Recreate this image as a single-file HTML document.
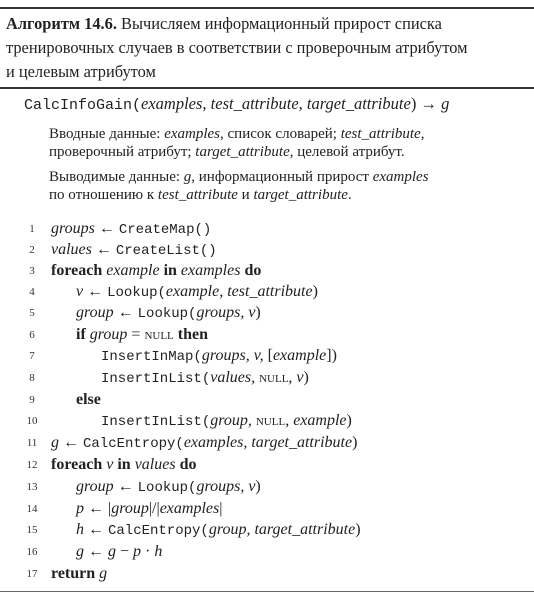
<!DOCTYPE html>
<html><head><meta charset="utf-8"><style>
body{margin:0;width:534px;height:598px;background:#fff;position:relative;overflow:hidden;font-family:"Liberation Serif","DejaVu Serif",serif;color:#222;}
.r{position:absolute;left:0;width:534px;background:#333;}
.l{position:absolute;white-space:nowrap;font-size:16px;line-height:20px;}
.n{position:absolute;left:24px;width:16px;text-align:center;font-size:11px;line-height:20px;color:#333;}
.m{font-family:"Liberation Mono",monospace;font-size:14px;}
i{font-style:italic}
.sc{font-variant:small-caps;font-size:15px}
.s{font-size:15px;}
.t{font-size:16.4px;}
</style></head><body>
<div class="r" style="top:7px;height:2px"></div>
<div class="l t" style="left:6px;top:14px"><b>Алгоритм 14.6.</b> Вычисляем информационный прирост списка</div>
<div class="l t" style="left:6px;top:38px">тренировочных случаев в соответствии с проверочным атрибутом</div>
<div class="l t" style="left:6px;top:62px">и целевым атрибутом</div>
<div class="r" style="top:87px;height:2px"></div>
<div class="l" style="left:24px;top:94px;font-size:16.5px"><span class="m" style="font-size:15px">CalcInfoGain(</span><i>examples, test_attribute, target_attribute</i>) → <i>g</i></div>
<div class="l s" style="left:49px;top:124px">Вводные данные: <i>examples</i>, список словарей; <i>test_attribute</i>,</div>
<div class="l s" style="left:49px;top:142px">проверочный атрибут; <i>target_attribute</i>, целевой атрибут.</div>
<div class="l s" style="left:49px;top:167px">Выводимые данные: <i>g</i>, информационный прирост <i>examples</i></div>
<div class="l s" style="left:49px;top:185px">по отношению к <i>test_attribute</i> и <i>target_attribute</i>.</div>

<div class="n" style="top:219px">1</div><div class="l" style="left:51px;top:219px"><i>groups</i> ← <span class="m">CreateMap()</span></div>
<div class="n" style="top:240px">2</div><div class="l" style="left:51px;top:240px"><i>values</i> ← <span class="m">CreateList()</span></div>
<div class="n" style="top:261px">3</div><div class="l" style="left:51px;top:261px"><b>foreach</b> <i>example</i> <b>in</b> <i>examples</i> <b>do</b></div>
<div class="n" style="top:282px">4</div><div class="l" style="left:76px;top:282px"><i>v</i> ← <span class="m">Lookup(</span><i>example, test_attribute</i>)</div>
<div class="n" style="top:303px">5</div><div class="l" style="left:76px;top:303px"><i>group</i> ← <span class="m">Lookup(</span><i>groups, v</i>)</div>
<div class="n" style="top:325px">6</div><div class="l" style="left:76px;top:325px"><b>if</b> <i>group</i> = <span class="sc">null</span> <b>then</b></div>
<div class="n" style="top:346px">7</div><div class="l" style="left:101px;top:346px"><span class="m">InsertInMap(</span><i>groups, v,</i> [<i>example</i>])</div>
<div class="n" style="top:368px">8</div><div class="l" style="left:101px;top:368px"><span class="m">InsertInList(</span><i>values,</i> <span class="sc">null</span>, <i>v</i>)</div>
<div class="n" style="top:390px">9</div><div class="l" style="left:76px;top:390px"><b>else</b></div>
<div class="n" style="top:411px">10</div><div class="l" style="left:101px;top:411px"><span class="m">InsertInList(</span><i>group,</i> <span class="sc">null</span>, <i>example</i>)</div>
<div class="n" style="top:433px">11</div><div class="l" style="left:51px;top:433px"><i>g</i> ← <span class="m">CalcEntropy(</span><i>examples, target_attribute</i>)</div>
<div class="n" style="top:455px">12</div><div class="l" style="left:51px;top:455px"><b>foreach</b> <i>v</i> <b>in</b> <i>values</i> <b>do</b></div>
<div class="n" style="top:477px">13</div><div class="l" style="left:76px;top:477px"><i>group</i> ← <span class="m">Lookup(</span><i>groups, v</i>)</div>
<div class="n" style="top:499px">14</div><div class="l" style="left:76px;top:499px"><i>p</i> ← |<i>group</i>|/|<i>examples</i>|</div>
<div class="n" style="top:520px">15</div><div class="l" style="left:76px;top:520px"><i>h</i> ← <span class="m">CalcEntropy(</span><i>group, target_attribute</i>)</div>
<div class="n" style="top:542px">16</div><div class="l" style="left:76px;top:542px"><i>g</i> ← <i>g</i> − <i>p</i> · <i>h</i></div>
<div class="n" style="top:564px">17</div><div class="l" style="left:51px;top:564px"><b>return</b> <i>g</i></div>
<div class="r" style="top:591px;height:1px;background:#666"></div>
</body></html>
